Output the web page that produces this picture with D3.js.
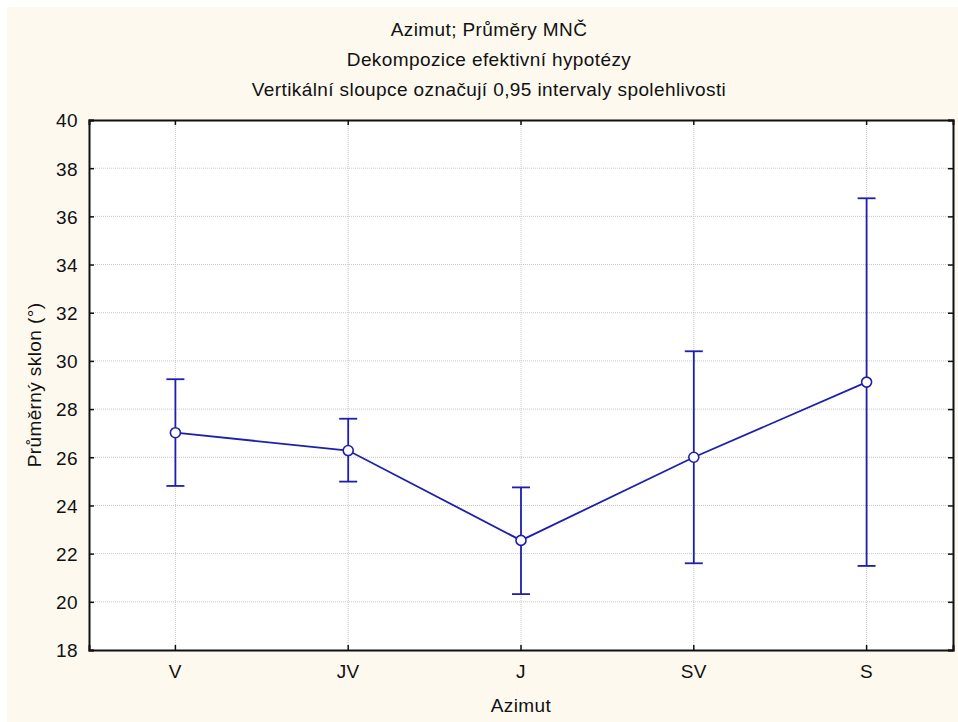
<!DOCTYPE html>
<html>
<head>
<meta charset="utf-8">
<script src="https://cdn.jsdelivr.net/npm/d3@7"></script>
<style>
  body { margin: 0; background: #fff; }
  text { font-family: Arial, "Liberation Sans", sans-serif; fill: #111; letter-spacing: 0.4px; }
</style>
</head>
<body>
<div id="chart"></div>
<script>
// data
const categories = ["V", "JV", "J", "SV", "S"];
const means = [27.02, 26.28, 22.55, 26.0, 29.12];
const lower = [24.81, 24.99, 20.32, 21.6, 21.49];
const upper = [29.24, 27.6, 24.75, 30.4, 36.75];
const yTicks = [18, 20, 22, 24, 26, 28, 30, 32, 34, 36, 38, 40];
const titles = ["Azimut; Průměry MNČ", "Dekompozice efektivní hypotézy",
  "Vertikální sloupce označují 0,95 intervaly spolehlivosti"];

const width = 958, height = 722;
const margin = { top: 120, right: 5, bottom: 72, left: 89 };
const blue = "#1f1fae";
const fs = 19;

let svg = d3.select("#chart").append("svg").attr("width", width).attr("height", height);

svg.append("rect").attr("x", 7).attr("y", 7).attr("width", width - 7).attr("height", height - 7)
  .attr("fill", "#fdf9ef");

let x = d3.scaleBand().domain(categories).range([margin.left, width - margin.right]).padding(0);
let y = d3.scaleLinear().domain([18, 40]).range([height - margin.bottom, margin.top]);
let cx = d => x(d) + x.bandwidth() / 2;
let plotW = width - margin.right - margin.left;
let plotH = height - margin.bottom - margin.top;

svg.append("rect")
  .attr("x", margin.left).attr("y", margin.top)
  .attr("width", plotW).attr("height", plotH)
  .attr("fill", "#fff");

// grid
svg.append("g").selectAll("line").data(yTicks.slice(1, -1)).enter().append("line")
  .attr("x1", margin.left).attr("x2", width - margin.right)
  .attr("y1", d => y(d)).attr("y2", d => y(d))
  .attr("stroke", "#c8c8c8").attr("stroke-dasharray", "1,1");
svg.append("g").selectAll("line").data(categories).enter().append("line")
  .attr("x1", cx).attr("x2", cx)
  .attr("y1", margin.top).attr("y2", height - margin.bottom)
  .attr("stroke", "#c8c8c8").attr("stroke-dasharray", "1,1");

// axes, ticks pointing inward
svg.append("g").attr("transform", `translate(0,${height - margin.bottom})`)
  .call(d3.axisBottom(x).tickSize(-5).tickPadding(15));
svg.append("g").attr("transform", `translate(0,${margin.top})`)
  .call(d3.axisTop(x).tickSize(-5).tickFormat(""));
let yAxis = svg.append("g").attr("transform", `translate(${margin.left},0)`)
  .call(d3.axisLeft(y).tickValues(yTicks).tickSize(-5).tickPadding(11));
svg.append("g").attr("transform", `translate(${width - margin.right},0)`)
  .call(d3.axisRight(y).tickValues(yTicks).tickSize(-5).tickFormat(""));

svg.selectAll(".domain").attr("stroke", "#111").attr("stroke-width", 2);
svg.selectAll(".tick line").attr("stroke", "#111").attr("stroke-width", 1.5);
svg.selectAll(".tick text").attr("font-size", fs).attr("fill", "#111")
  .style("font-family", "Arial, 'Liberation Sans', sans-serif");
yAxis.selectAll(".tick text").attr("dy", "0.36em");

// error bars
let bars = svg.append("g").attr("stroke", blue).attr("stroke-width", 1.8);
bars.selectAll(".v").data(categories).enter().append("line")
  .attr("x1", cx).attr("x2", cx)
  .attr("y1", (d, i) => y(lower[i])).attr("y2", (d, i) => y(upper[i]));
bars.selectAll(".top").data(categories).enter().append("line")
  .attr("x1", d => cx(d) - 9).attr("x2", d => cx(d) + 9)
  .attr("y1", (d, i) => y(upper[i])).attr("y2", (d, i) => y(upper[i]));
bars.selectAll(".bot").data(categories).enter().append("line")
  .attr("x1", d => cx(d) - 9).attr("x2", d => cx(d) + 9)
  .attr("y1", (d, i) => y(lower[i])).attr("y2", (d, i) => y(lower[i]));

// mean line
let line = d3.line().x(d => cx(d[0])).y(d => y(d[1]));
svg.append("path").datum(categories.map((c, i) => [c, means[i]]))
  .attr("d", line).attr("fill", "none").attr("stroke", blue).attr("stroke-width", 1.8);

svg.selectAll(".pt").data(categories).enter().append("circle")
  .attr("cx", cx).attr("cy", (d, i) => y(means[i])).attr("r", 5)
  .attr("fill", "#fff").attr("stroke", blue).attr("stroke-width", 1.6);

// titles
svg.selectAll(".title").data(titles).enter().append("text")
  .attr("x", 489)
  .attr("y", (d, i) => 36 + i * 30)
  .attr("text-anchor", "middle").attr("font-size", fs)
  .text(d => d);

svg.append("text").attr("x", margin.left + plotW / 2).attr("y", 712)
  .attr("text-anchor", "middle").attr("font-size", fs).text("Azimut");

svg.append("text")
  .attr("transform", `translate(41,${margin.top + plotH / 2}) rotate(-90)`)
  .attr("text-anchor", "middle").attr("font-size", fs).text("Průměrný sklon (°)");
</script>
</body>
</html>
